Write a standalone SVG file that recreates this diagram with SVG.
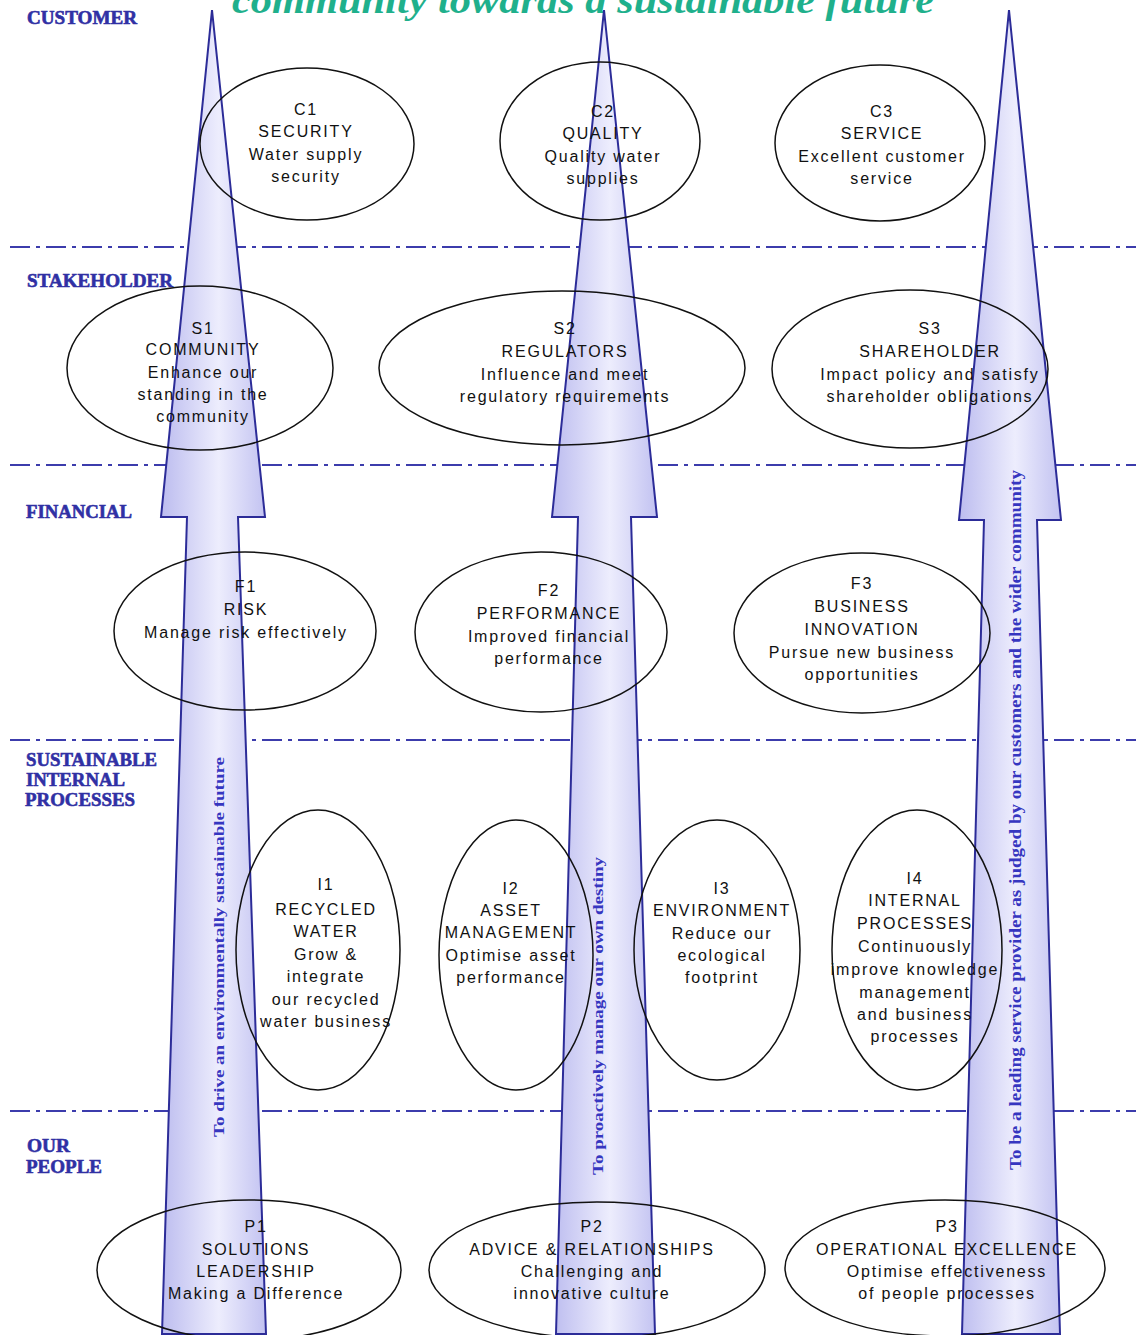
<svg xmlns="http://www.w3.org/2000/svg" width="1136" height="1335" viewBox="0 0 1136 1335">
<defs>
<linearGradient id="ag" x1="0" y1="0" x2="1" y2="0">
<stop offset="0" stop-color="#bcbcef"/>
<stop offset="0.55" stop-color="#ededfd"/>
<stop offset="1" stop-color="#c2c2f1"/>
</linearGradient>
<style>
.arrow{fill:url(#ag);stroke:#2c2c98;stroke-width:2;stroke-linejoin:miter}
.sep{stroke:#3c3cac;stroke-width:2;stroke-dasharray:20 6 4 6;fill:none}
.ell{fill:none;stroke:#111;stroke-width:1.5}
.t{font-family:"Liberation Sans",Arial,sans-serif;font-size:16px;letter-spacing:1.8px;fill:#111;text-anchor:middle}
.lab{font-family:"Liberation Serif","Times New Roman",serif;font-weight:bold;font-size:18px;fill:#3030a4;stroke:#3030a4;stroke-width:0.6}
.vt{font-family:"Liberation Serif","Times New Roman",serif;font-weight:bold;fill:#3636c0}
.title{font-family:"Liberation Serif","Times New Roman",serif;font-weight:bold;font-style:italic;font-size:38px;fill:#1fb08c}
</style>
</defs>
<rect width="1136" height="1335" fill="#ffffff"/>
<text class="title" x="232" y="13" textLength="702" lengthAdjust="spacingAndGlyphs">community towards a sustainable future</text>
<g id="separators">
<line class="sep" x1="10" y1="247" x2="1136" y2="247"/>
<line class="sep" x1="10" y1="465" x2="1136" y2="465"/>
<line class="sep" x1="10" y1="740" x2="1136" y2="740"/>
<line class="sep" x1="10" y1="1111" x2="1136" y2="1111"/>
</g>
<g id="labels">
<text class="lab" x="27" y="24" textLength="110" lengthAdjust="spacingAndGlyphs">CUSTOMER</text>
<text class="lab" x="27" y="287" textLength="146" lengthAdjust="spacingAndGlyphs">STAKEHOLDER</text>
<text class="lab" x="26" y="518" textLength="106" lengthAdjust="spacingAndGlyphs">FINANCIAL</text>
<text class="lab" x="26" y="766" textLength="131" lengthAdjust="spacingAndGlyphs">SUSTAINABLE</text>
<text class="lab" x="26" y="786" textLength="99" lengthAdjust="spacingAndGlyphs">INTERNAL</text>
<text class="lab" x="25" y="806" textLength="110" lengthAdjust="spacingAndGlyphs">PROCESSES</text>
<text class="lab" x="27" y="1152" textLength="43" lengthAdjust="spacingAndGlyphs">OUR</text>
<text class="lab" x="26" y="1173" textLength="76" lengthAdjust="spacingAndGlyphs">PEOPLE</text>
</g>
<g id="connectors">
<g id="arrow-left">
<polygon class="arrow" points="212,10 265,517 238,517 266,1334 162,1334 187,517 161,517"/>
<text class="vt" font-size="15" transform="translate(224,1137) rotate(-90)" textLength="380" lengthAdjust="spacingAndGlyphs">To drive an  environmentally sustainable future</text>
</g>
<g id="arrow-middle">
<polygon class="arrow" points="604,10 657,517 631,517 655,1334 556,1334 578,517 552,517"/>
<text class="vt" font-size="15" transform="translate(603,1175) rotate(-90)" textLength="318" lengthAdjust="spacingAndGlyphs">To proactively manage our own destiny</text>
</g>
<g id="arrow-right">
<polygon class="arrow" points="1009,10 1061,520 1037,520 1060,1334 962,1334 984,520 959,520"/>
<text class="vt" font-size="16" transform="translate(1021,1170) rotate(-90)" textLength="700" lengthAdjust="spacingAndGlyphs">To be a leading service provider as judged by our customers and the wider community</text>
</g>
</g>
<g id="C1"><ellipse class="ell" cx="307" cy="144" rx="107" ry="76"/>
<text class="t"><tspan x="306" y="115">C1</tspan><tspan x="306" y="137">SECURITY</tspan><tspan x="306" y="160">Water supply</tspan><tspan x="306" y="182">security</tspan></text></g>
<g id="C2"><ellipse class="ell" cx="600" cy="141" rx="100" ry="79"/>
<text class="t"><tspan x="603" y="117">C2</tspan><tspan x="603" y="139">QUALITY</tspan><tspan x="603" y="162">Quality water</tspan><tspan x="603" y="184">supplies</tspan></text></g>
<g id="C3"><ellipse class="ell" cx="880" cy="143" rx="105" ry="78"/>
<text class="t"><tspan x="882" y="117">C3</tspan><tspan x="882" y="139">SERVICE</tspan><tspan x="882" y="162">Excellent customer</tspan><tspan x="882" y="184">service</tspan></text></g>
<g id="S1"><ellipse class="ell" cx="200" cy="368" rx="133" ry="82"/>
<text class="t"><tspan x="203" y="334">S1</tspan><tspan x="203" y="355">COMMUNITY</tspan><tspan x="203" y="378">Enhance our</tspan><tspan x="203" y="400">standing in the</tspan><tspan x="203" y="422">community</tspan></text></g>
<g id="S2"><ellipse class="ell" cx="562" cy="368" rx="183" ry="77"/>
<text class="t"><tspan x="565" y="334">S2</tspan><tspan x="565" y="357">REGULATORS</tspan><tspan x="565" y="380">Influence and meet</tspan><tspan x="565" y="402">regulatory requirements</tspan></text></g>
<g id="S3"><ellipse class="ell" cx="910" cy="369" rx="138" ry="79"/>
<text class="t"><tspan x="930" y="334">S3</tspan><tspan x="930" y="357">SHAREHOLDER</tspan><tspan x="930" y="380">Impact policy and satisfy</tspan><tspan x="930" y="402">shareholder obligations</tspan></text></g>
<g id="F1"><ellipse class="ell" cx="245" cy="631" rx="131" ry="79"/>
<text class="t"><tspan x="246" y="592">F1</tspan><tspan x="246" y="615">RISK</tspan><tspan x="246" y="638">Manage risk effectively</tspan></text></g>
<g id="F2"><ellipse class="ell" cx="541" cy="632" rx="126" ry="80"/>
<text class="t"><tspan x="549" y="596">F2</tspan><tspan x="549" y="619">PERFORMANCE</tspan><tspan x="549" y="642">Improved financial</tspan><tspan x="549" y="664">performance</tspan></text></g>
<g id="F3"><ellipse class="ell" cx="862" cy="633" rx="128" ry="80"/>
<text class="t"><tspan x="862" y="589">F3</tspan><tspan x="862" y="612">BUSINESS</tspan><tspan x="862" y="635">INNOVATION</tspan><tspan x="862" y="658">Pursue new business</tspan><tspan x="862" y="680">opportunities</tspan></text></g>
<g id="I1"><ellipse class="ell" cx="318" cy="950" rx="82" ry="140"/>
<text class="t"><tspan x="326" y="890">I1</tspan><tspan x="326" y="915">RECYCLED</tspan><tspan x="326" y="937">WATER</tspan><tspan x="326" y="960">Grow &amp;</tspan><tspan x="326" y="982">integrate</tspan><tspan x="326" y="1005">our recycled</tspan><tspan x="326" y="1027">water business</tspan></text></g>
<g id="I2"><ellipse class="ell" cx="516" cy="955" rx="77" ry="135"/>
<text class="t"><tspan x="511" y="894">I2</tspan><tspan x="511" y="916">ASSET</tspan><tspan x="511" y="938">MANAGEMENT</tspan><tspan x="511" y="961">Optimise asset</tspan><tspan x="511" y="983">performance</tspan></text></g>
<g id="I3"><ellipse class="ell" cx="717" cy="950" rx="83" ry="130"/>
<text class="t"><tspan x="722" y="894">I3</tspan><tspan x="722" y="916">ENVIRONMENT</tspan><tspan x="722" y="939">Reduce our</tspan><tspan x="722" y="961">ecological</tspan><tspan x="722" y="983">footprint</tspan></text></g>
<g id="I4"><ellipse class="ell" cx="917" cy="950" rx="85" ry="140"/>
<text class="t"><tspan x="915" y="884">I4</tspan><tspan x="915" y="906">INTERNAL</tspan><tspan x="915" y="929">PROCESSES</tspan><tspan x="915" y="952">Continuously</tspan><tspan x="915" y="975">improve knowledge</tspan><tspan x="915" y="998">management</tspan><tspan x="915" y="1020">and business</tspan><tspan x="915" y="1042">processes</tspan></text></g>
<g id="P1"><ellipse class="ell" cx="249" cy="1270" rx="152" ry="70"/>
<text class="t"><tspan x="256" y="1232">P1</tspan><tspan x="256" y="1255">SOLUTIONS</tspan><tspan x="256" y="1277">LEADERSHIP</tspan><tspan x="256" y="1299">Making a Difference</tspan></text></g>
<g id="P2"><ellipse class="ell" cx="597" cy="1270" rx="168" ry="68"/>
<text class="t"><tspan x="592" y="1232">P2</tspan><tspan x="592" y="1255">ADVICE &amp; RELATIONSHIPS</tspan><tspan x="592" y="1277">Challenging and</tspan><tspan x="592" y="1299">innovative culture</tspan></text></g>
<g id="P3"><ellipse class="ell" cx="945" cy="1268" rx="160" ry="68"/>
<text class="t"><tspan x="947" y="1232">P3</tspan><tspan x="947" y="1255">OPERATIONAL EXCELLENCE</tspan><tspan x="947" y="1277">Optimise effectiveness</tspan><tspan x="947" y="1299">of people processes</tspan></text></g>
</svg>
